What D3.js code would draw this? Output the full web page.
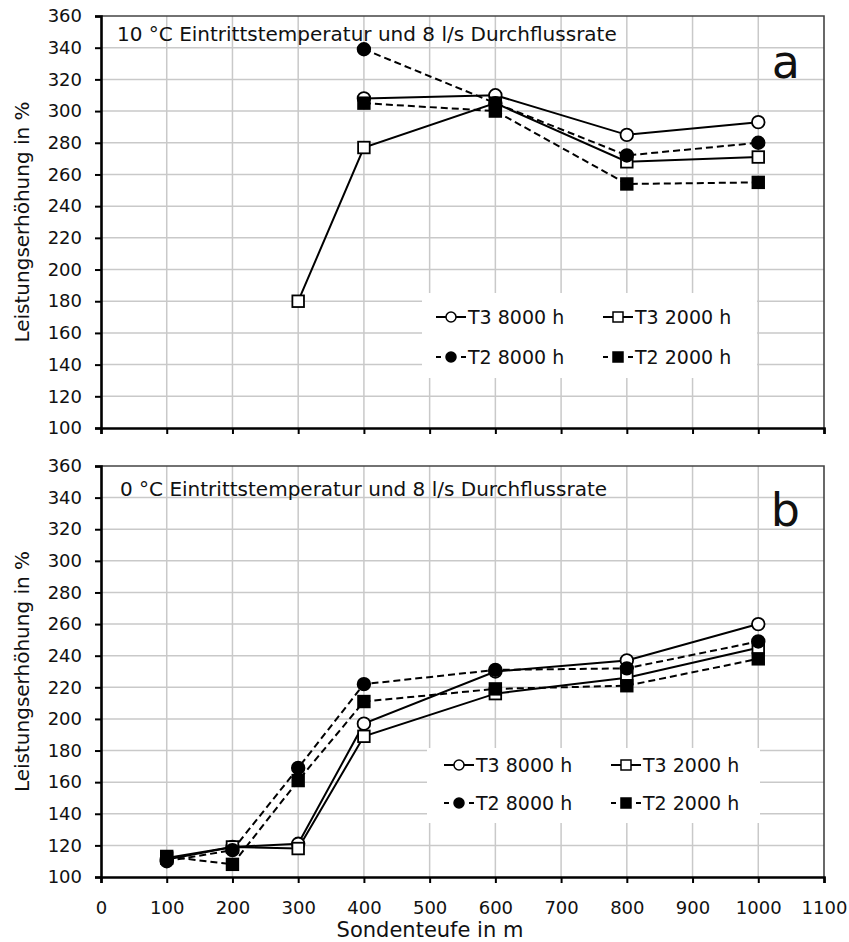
<!DOCTYPE html>
<html>
<head>
<meta charset="utf-8">
<script src="https://cdn.jsdelivr.net/npm/d3@7/dist/d3.min.js"></script>
<style>
  body { margin: 0; background: #fff; }
  text { font-family: 'DejaVu Sans', sans-serif; fill: #111; }
</style>
</head>
<body>
<div id="chart"></div>
<script>
const depths = [100, 200, 300, 400, 600, 800, 1000]
const seriesNames = ['T3 8000 h', 'T3 2000 h', 'T2 8000 h', 'T2 2000 h']
const xTicks = d3.range(0, 1101, 100)
const yTicks = d3.range(100, 361, 20)

// panel a: 10 °C
const a_T3_8000 = [null, null, null, 308, 310, 285, 293]
const a_T3_2000 = [null, null, 180, 277, 305, 268, 271]
const a_T2_8000 = [null, null, null, 339, 305, 272, 280]
const a_T2_2000 = [null, null, null, 305, 300, 254, 255]

// panel b: 0 °C
const b_T3_8000 = [111, 119, 121, 197, 230, 237, 260]
const b_T3_2000 = [112, 119, 118, 189, 216, 226, 245]
const b_T2_8000 = [110, 117, 169, 222, 231, 232, 249]
const b_T2_2000 = [113, 108, 161, 211, 219, 221, 238]

const width = 849
const height = 942
const left = 101
const right = 824

const svg = d3.select('#chart')
  .append('svg')
  .attr('width', width)
  .attr('height', height)

const x = d3.scaleLinear().domain([0, 1100]).range([left, right])

const styles = [
  { dash: null, marker: 'circle', fill: '#fff' },
  { dash: null, marker: 'square', fill: '#fff' },
  { dash: '7,4', marker: 'circle', fill: '#000' },
  { dash: '7,4', marker: 'square', fill: '#000' }
]

function drawMarker(g, type, fill, cx, cy) {
  if (type === 'circle') {
    g.append('circle')
      .attr('cx', cx).attr('cy', cy).attr('r', 6.3)
      .attr('fill', fill).attr('stroke', '#000').attr('stroke-width', 1.8)
  } else {
    g.append('rect')
      .attr('x', cx - 5.8).attr('y', cy - 5.8)
      .attr('width', 11.6).attr('height', 11.6)
      .attr('fill', fill).attr('stroke', '#000').attr('stroke-width', 1.8)
  }
}

function panel(cfg) {
  const y = d3.scaleLinear().domain([100, 360]).range([cfg.bottom, cfg.top])
  const g = svg.append('g')

  // grid
  g.append('g').selectAll('line')
    .data(xTicks.slice(1, -1))
    .join('line')
    .attr('x1', d => x(d)).attr('x2', d => x(d))
    .attr('y1', cfg.top).attr('y2', cfg.bottom)
    .attr('stroke', '#c9c9c9').attr('stroke-width', 1.5)
  g.append('g').selectAll('line')
    .data(yTicks.slice(1, -1))
    .join('line')
    .attr('x1', left).attr('x2', right)
    .attr('y1', d => y(d)).attr('y2', d => y(d))
    .attr('stroke', '#c9c9c9').attr('stroke-width', 1.5)

  // legend box background
  const lg = cfg.legend
  g.append('rect')
    .attr('x', lg.x0).attr('y', lg.y0)
    .attr('width', lg.x1 - lg.x0).attr('height', lg.y1 - lg.y0)
    .attr('fill', '#fff')

  // frame (top / right)
  g.append('path')
    .attr('d', `M${left},${cfg.top}H${right}V${cfg.bottom}`)
    .attr('fill', 'none').attr('stroke', '#444').attr('stroke-width', 1.6)

  // axes
  const yAxis = g.append('g')
    .attr('transform', `translate(${left},0)`)
    .call(d3.axisLeft(y).tickValues(yTicks).tickSize(6).tickPadding(13))
  yAxis.select('.domain').attr('stroke', '#000').attr('stroke-width', 2.6)
  yAxis.selectAll('.tick line').attr('stroke', '#000').attr('stroke-width', 2)
  yAxis.selectAll('.tick text')
    .style('font-family', "'DejaVu Sans', sans-serif")
    .style('font-size', '18px').attr('fill', '#111')

  const xAxis = g.append('g')
    .attr('transform', `translate(0,${cfg.bottom})`)
    .call(d3.axisBottom(x).tickValues(xTicks).tickFormat(d3.format('d')).tickSize(6).tickPadding(18))
  xAxis.select('.domain').attr('stroke', '#000').attr('stroke-width', 2.6)
  xAxis.selectAll('.tick line').attr('stroke', '#000').attr('stroke-width', 2)
  xAxis.selectAll('.tick text')
    .style('font-family', "'DejaVu Sans', sans-serif")
    .style('font-size', '18px').attr('fill', '#111')
  if (!cfg.xLabels) xAxis.selectAll('.tick text').remove()

  // series
  cfg.series.forEach((vals, i) => {
    const pts = depths.map((d, k) => [d, vals[k]]).filter(p => p[1] != null)
    const line = d3.line().x(p => x(p[0])).y(p => y(p[1]))
    g.append('path')
      .attr('d', line(pts))
      .attr('fill', 'none').attr('stroke', '#000').attr('stroke-width', 2)
      .attr('stroke-dasharray', styles[i].dash)
  })
  cfg.series.forEach((vals, i) => {
    depths.forEach((d, k) => {
      if (vals[k] == null) return
      drawMarker(g, styles[i].marker, styles[i].fill, x(d), y(vals[k]))
    })
  })

  // legend entries
  seriesNames.forEach((name, i) => {
    const col = i % 2
    const row = Math.floor(i / 2)
    const cx = lg.cols[col]
    const cy = lg.rows[row]
    g.append('line')
      .attr('x1', cx - 15).attr('x2', cx + 15)
      .attr('y1', cy).attr('y2', cy)
      .attr('stroke', '#000').attr('stroke-width', 2)
      .attr('stroke-dasharray', styles[i].dash ? '5,20,5' : null)
    if (styles[i].marker === 'circle') {
      g.append('circle').attr('cx', cx).attr('cy', cy).attr('r', 5)
        .attr('fill', styles[i].fill).attr('stroke', '#000').attr('stroke-width', 1.5)
    } else {
      g.append('rect').attr('x', cx - 5).attr('y', cy - 5).attr('width', 10).attr('height', 10)
        .attr('fill', styles[i].fill).attr('stroke', '#000').attr('stroke-width', 1.5)
    }
    g.append('text')
      .attr('x', cx + 17).attr('y', cy)
      .attr('dy', '0.36em')
      .style('font-size', '19px')
      .text(name)
  })

  // panel title and letter
  g.append('text')
    .attr('x', cfg.titleX).attr('y', cfg.titleY)
    .style('font-size', '20px')
    .text(cfg.title)
  g.append('text')
    .attr('x', 800).attr('y', cfg.letterY)
    .attr('text-anchor', 'end')
    .style('font-size', '46px')
    .text(cfg.letter)

  // y title
  g.append('text')
    .attr('transform', `translate(29,${(cfg.top + cfg.bottom) / 2}) rotate(-90)`)
    .attr('text-anchor', 'middle')
    .style('font-size', '20px')
    .text('Leistungserhöhung in %')
}

panel({
  top: 16, bottom: 428,
  series: [a_T3_8000, a_T3_2000, a_T2_8000, a_T2_2000],
  title: '10 °C Eintrittstemperatur und 8 l/s Durchflussrate',
  titleX: 117, titleY: 41, letter: 'a', letterY: 78,
  xLabels: false,
  legend: { x0: 422, x1: 757, y0: 293, y1: 378, cols: [451, 618], rows: [317, 357] }
})

panel({
  top: 466, bottom: 877,
  series: [b_T3_8000, b_T3_2000, b_T2_8000, b_T2_2000],
  title: '0 °C Eintrittstemperatur und 8 l/s Durchflussrate',
  titleX: 120, titleY: 496, letter: 'b', letterY: 526,
  xLabels: true,
  legend: { x0: 427, x1: 760, y0: 748, y1: 823, cols: [459, 626], rows: [765, 803] }
})

svg.append('text')
  .attr('x', 430).attr('y', 937)
  .attr('text-anchor', 'middle')
  .style('font-size', '21px')
  .text('Sondenteufe in m')
</script>
</body>
</html>
